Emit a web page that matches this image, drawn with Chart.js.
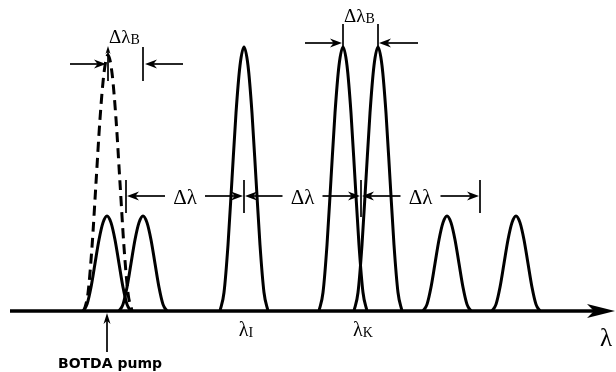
<!DOCTYPE html>
<html>
<head>
<meta charset="utf-8">
<script src="https://cdn.jsdelivr.net/npm/chart.js@4.4.1/dist/chart.umd.min.js"></script>
<style>
  html, body { margin: 0; padding: 0; background: #fff; }
  #wrap { width: 616px; height: 372px; position: relative; }
</style>
</head>
<body>
<div id="wrap"><canvas id="chart"></canvas></div>
<script>
// wavelength axis in arbitrary units, amplitude normalised to the tall peaks
const peakCenters = [107, 143, 244, 343, 378, 447, 516];
const peakHeights = [0.36, 0.36, 1.0, 1.0, 1.0, 0.36, 0.36];
const pumpCenter = 108;
const pumpHeight = 0.97;
const channelCenters = [126, 244, 361, 480];
const channelLabels = ['', 'I', 'K', ''];
const axisStart = 10, axisEnd = 600;

// peak profile (offset from centre, relative height)
const profileOffsets = [-24, -20, -16, -12, -8, -4, 0, 4, 8, 12, 16, 20, 24];
const profileValues  = [0, 0.07, 0.25, 0.5, 0.75, 0.93, 1, 0.93, 0.75, 0.5, 0.25, 0.07, 0];

function peak(c, h) {
  return profileOffsets.map((o, i) => ({ x: c + o, y: h * profileValues[i] }));
}

const lineDefaults = {
  showLine: true, pointRadius: 0, borderColor: '#000', fill: false,
  cubicInterpolationMode: 'monotone'
};

const datasets = [
  { ...lineDefaults, data: [{ x: axisStart, y: 0 }, { x: axisEnd, y: 0 }], borderWidth: 3.5 },
  { ...lineDefaults, data: peak(pumpCenter, pumpHeight), borderWidth: 3, borderDash: [10, 6] }
];
peakCenters.forEach((c, i) => {
  datasets.push({ ...lineDefaults, data: peak(c, peakHeights[i]), borderWidth: 3 });
});

function arrow(ctx, x1, y1, x2, y2, len, half) {
  len = len || 12; half = half || 4.5;
  const a = Math.atan2(y2 - y1, x2 - x1);
  const cos = Math.cos(a), sin = Math.sin(a);
  ctx.beginPath();
  ctx.moveTo(x1, y1);
  ctx.lineTo(x2 - cos * len * 0.6, y2 - sin * len * 0.6);
  ctx.stroke();
  ctx.beginPath();
  ctx.moveTo(x2, y2);
  ctx.lineTo(x2 - cos * len - sin * half, y2 - sin * len + cos * half);
  ctx.lineTo(x2 - cos * len * 0.7, y2 - sin * len * 0.7);
  ctx.lineTo(x2 - cos * len + sin * half, y2 - sin * len - cos * half);
  ctx.closePath();
  ctx.fill();
}

function vline(ctx, x, y1, y2) {
  ctx.beginPath();
  ctx.moveTo(x, y1);
  ctx.lineTo(x, y2);
  ctx.stroke();
}

// main text + subscript, x is the left edge unless centred
function subText(ctx, main, sub, x, y, size, subSize, centred) {
  ctx.font = size + "px 'Liberation Serif'";
  const w1 = ctx.measureText(main).width;
  ctx.font = subSize + "px 'Liberation Serif'";
  const w2 = ctx.measureText(sub).width;
  const left = centred ? x - (w1 + w2) / 2 : x;
  ctx.textAlign = 'left';
  ctx.textBaseline = 'alphabetic';
  ctx.font = size + "px 'Liberation Serif'";
  ctx.fillText(main, left, y);
  ctx.font = subSize + "px 'Liberation Serif'";
  ctx.fillText(sub, left + w1, y + 1);
}

const overlay = {
  id: 'overlay',
  afterDatasetsDraw(chart) {
    const ctx = chart.ctx;
    const X = v => chart.scales.x.getPixelForValue(v);
    const Y = v => chart.scales.y.getPixelForValue(v);
    const base = Y(0);
    ctx.save();
    ctx.strokeStyle = '#000';
    ctx.fillStyle = '#000';

    // axis arrow head
    const tip = X(axisEnd) + 15;
    ctx.beginPath();
    ctx.moveTo(tip, base);
    ctx.lineTo(tip - 28, base - 7);
    ctx.lineTo(tip - 21, base);
    ctx.lineTo(tip - 28, base + 7);
    ctx.closePath();
    ctx.fill();

    ctx.lineWidth = 1.7;

    // Δλ_B at the pump
    const pX = X(pumpCenter), s1 = X(peakCenters[1]);
    arrow(ctx, 70, 64, pX - 2, 64);
    vline(ctx, s1, 47, 81);
    arrow(ctx, 183, 64, s1 + 2, 64);
    arrow(ctx, pX, 81, pX, 46, 8, 2.5);
    subText(ctx, 'Δλ', 'B', 109, 43, 19, 14, false);

    // Δλ_B between the pair at λK
    const k1 = X(peakCenters[3]), k2 = X(peakCenters[4]);
    vline(ctx, k1, 24, 47);
    vline(ctx, k2, 24, 47);
    arrow(ctx, 305, 43, k1 - 1, 43);
    arrow(ctx, 418, 43, k2 + 1, 43);
    subText(ctx, 'Δλ', 'B', 344, 22, 19, 14, false);

    // channel spacing Δλ
    const ay = 196;
    channelCenters.forEach((c, i) => vline(ctx, X(c), 180, i === 2 ? 217 : 213));
    for (let i = 0; i < channelCenters.length - 1; i++) {
      const a = X(channelCenters[i]), b = X(channelCenters[i + 1]);
      const mid = (a + b) / 2;
      arrow(ctx, mid - 20, ay, a + 1, ay);
      arrow(ctx, mid + 20, ay, b - 1, ay);
      ctx.font = "21px 'Liberation Serif'";
      ctx.textAlign = 'center';
      ctx.textBaseline = 'alphabetic';
      ctx.fillText('Δλ', mid, 204);
    }

    // channel labels under the axis
    channelCenters.forEach((c, i) => {
      if (channelLabels[i]) subText(ctx, 'λ', channelLabels[i], X(c) + 2, 336, 20, 14, true);
    });

    // axis name
    ctx.font = "25px 'Liberation Serif'";
    ctx.textAlign = 'center';
    ctx.fillText('λ', 606, 346);

    // BOTDA pump marker
    const p0 = X(peakCenters[0]);
    arrow(ctx, p0, 352, p0, base + 2, 11, 3.5);
    ctx.font = "bold 14px 'DejaVu Sans'";
    ctx.textAlign = 'center';
    ctx.fillText('BOTDA pump', 110, 368);

    ctx.restore();
  }
};

new Chart(document.getElementById('chart'), {
  type: 'scatter',
  data: { datasets: datasets },
  options: {
    responsive: true,
    maintainAspectRatio: false,
    animation: false,
    layout: { padding: 0 },
    plugins: { legend: { display: false }, tooltip: { enabled: false } },
    scales: {
      x: { type: 'linear', min: 0, max: 616, display: false },
      y: { type: 'linear', min: -0.231, max: 1.178, display: false }
    }
  },
  plugins: [overlay]
});
</script>
</body>
</html>
